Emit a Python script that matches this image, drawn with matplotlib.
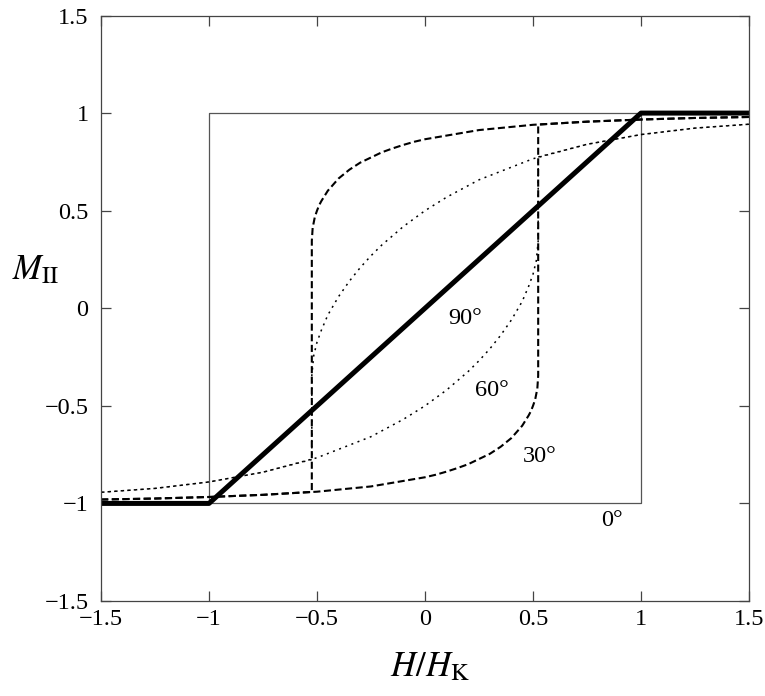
import matplotlib
matplotlib.use('Agg')
import matplotlib.pyplot as plt

plt.rcParams['font.family'] = ['Liberation Serif', 'DejaVu Serif']
plt.rcParams['mathtext.fontset'] = 'stix'

# 0 deg: square loop
h_0_down = [1.5, -1.0, -1.0, -1.5]
m_0_down = [1.0, 1.0, -1.0, -1.0]
h_0_up = [-1.5, 1.0, 1.0, 1.5]
m_0_up = [-1.0, -1.0, 1.0, 1.0]

# 30 deg: dashed loop
h_30_down = [1.5, 1.25, 1.0, 0.75, 0.5, 0.25, 0.0, -0.05, -0.1, -0.15, -0.2, -0.3, -0.35, -0.4,
             -0.45, -0.48, -0.49, -0.5, -0.51, -0.515, -0.52, -0.524, -0.524, -0.75, -1.0, -1.25, -1.5]
m_30_down = [0.98, 0.975, 0.967, 0.956, 0.94, 0.913, 0.866, 0.853, 0.837, 0.819, 0.799, 0.746, 0.71, 0.665,
             0.602, 0.549, 0.528, 0.5, 0.468, 0.44, 0.413, 0.345, -0.941, -0.956, -0.967, -0.975, -0.98]
h_30_up = [-1.5, -1.25, -1.0, -0.75, -0.5, -0.25, 0.0, 0.05, 0.1, 0.15, 0.2, 0.3, 0.35, 0.4,
           0.45, 0.48, 0.49, 0.5, 0.51, 0.515, 0.52, 0.524, 0.524, 0.75, 1.0, 1.25, 1.5]
m_30_up = [-0.98, -0.975, -0.967, -0.956, -0.94, -0.913, -0.866, -0.853, -0.837, -0.819, -0.799, -0.746, -0.71, -0.665,
           -0.602, -0.549, -0.528, -0.5, -0.468, -0.44, -0.413, -0.345, 0.941, 0.956, 0.967, 0.975, 0.98]

# 60 deg: dotted loop
h_60_down = [1.5, 1.25, 1.0, 0.75, 0.5, 0.25, 0.1, 0.0, -0.1, -0.2, -0.25, -0.3, -0.35, -0.4,
             -0.45, -0.48, -0.5, -0.515, -0.524, -0.524, -0.75, -1.0, -1.25, -1.5]
m_60_down = [0.943, 0.923, 0.89, 0.84, 0.766, 0.658, 0.569, 0.5, 0.419, 0.324, 0.269, 0.208, 0.139, 0.06,
             -0.035, -0.113, -0.174, -0.242, -0.345, -0.775, -0.84, -0.89, -0.923, -0.943]
h_60_up = [-1.5, -1.25, -1.0, -0.75, -0.5, -0.25, -0.1, 0.0, 0.1, 0.2, 0.25, 0.3, 0.35, 0.4,
           0.45, 0.48, 0.5, 0.515, 0.524, 0.524, 0.75, 1.0, 1.25, 1.5]
m_60_up = [-0.943, -0.923, -0.89, -0.84, -0.766, -0.658, -0.569, -0.5, -0.419, -0.324, -0.269, -0.208, -0.139, -0.06,
           0.035, 0.113, 0.174, 0.242, 0.345, 0.775, 0.84, 0.89, 0.923, 0.943]

# 90 deg: reversible line
h_90 = [-1.5, -1.0, 1.0, 1.5]
m_90 = [-1.0, -1.0, 1.0, 1.0]

ticks = [-1.5, -1.0, -0.5, 0.0, 0.5, 1.0, 1.5]
tick_labels = ['\u22121.5', '\u22121', '\u22120.5', '0', '0.5', '1', '1.5']

angle_labels = ['90\u00b0', '60\u00b0', '30\u00b0', '0\u00b0']
label_h = [0.185, 0.31, 0.53, 0.865]
label_m = [-0.05, -0.42, -0.76, -1.09]

fig = plt.figure(figsize=(7.65, 6.96), dpi=100)
ax = fig.add_axes([101 / 765, 1 - 601 / 696, 648 / 765, 585.5 / 696])

ax.plot(h_0_down, m_0_down, color='#555555', lw=0.9)
ax.plot(h_0_up, m_0_up, color='#555555', lw=0.9)
ax.plot(h_60_down, m_60_down, color='black', lw=1.1, linestyle=(0, (1.3, 3.0)))
ax.plot(h_60_up, m_60_up, color='black', lw=1.1, linestyle=(0, (1.3, 3.0)))
ax.plot(h_30_down, m_30_down, color='black', lw=1.5, linestyle=(0, (3.4, 1.7)))
ax.plot(h_30_up, m_30_up, color='black', lw=1.5, linestyle=(0, (3.4, 1.7)))
ax.plot(h_90, m_90, color='black', lw=3.6, solid_capstyle='butt')

for txt, x, y in zip(angle_labels, label_h, label_m):
    ax.text(x, y, txt, fontsize=17.5, ha='center', va='center')

ax.set_xlim(-1.5, 1.5)
ax.set_ylim(-1.5, 1.5)
ax.set_xticks(ticks)
ax.set_xticklabels(tick_labels)
ax.set_yticks(ticks)
ax.set_yticklabels(tick_labels)
ax.tick_params(direction='in', top=True, right=True, length=7, width=0.9,
               color='#444444', labelsize=17.5)
ax.tick_params(axis='y', pad=9)
ax.tick_params(axis='x', pad=6)
for sp in ax.spines.values():
    sp.set_color('#444444')
    sp.set_linewidth(0.9)

fig.text(36 / 765, 1 - 271 / 696, r'$M_{\mathrm{II}}$', fontsize=25, ha='center', va='center')
fig.text(430 / 765, 1 - 668 / 696, r'$H/H_{\mathrm{K}}$', fontsize=25, ha='center', va='center')

fig.savefig('out.png', dpi=100)
